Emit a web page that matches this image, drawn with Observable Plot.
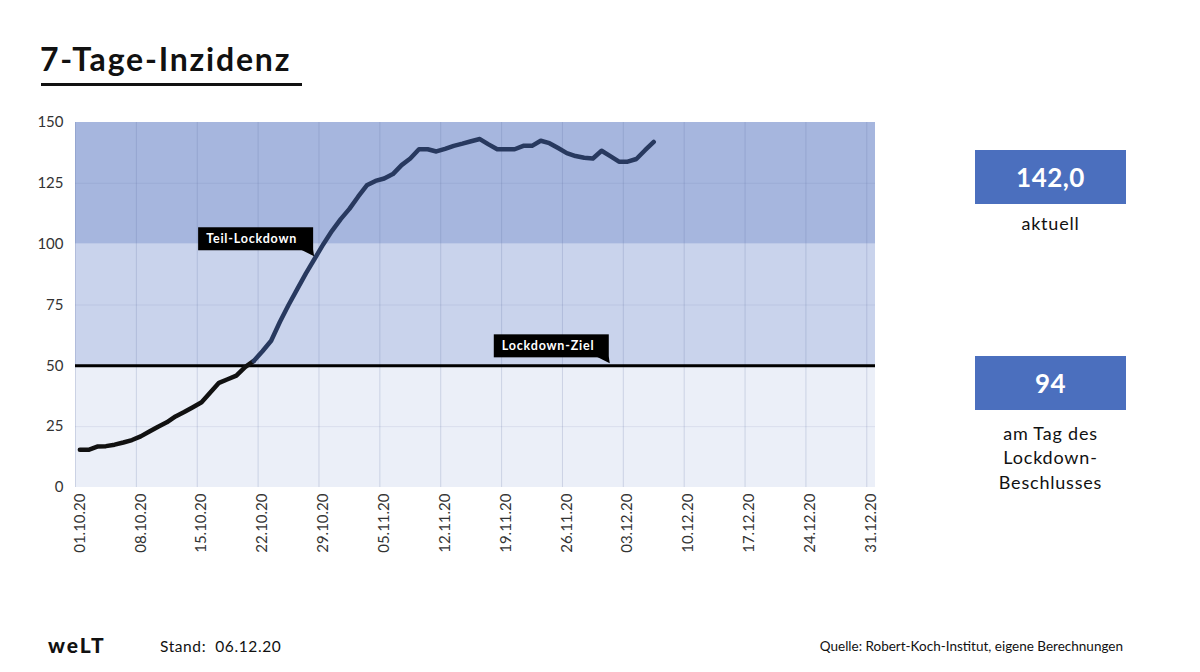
<!DOCTYPE html>
<html lang="de">
<head>
<meta charset="utf-8">
<script src="https://cdn.jsdelivr.net/npm/d3@7"></script>
<script src="https://cdn.jsdelivr.net/npm/@observablehq/plot@0.6"></script>
<style>
  html, body { margin: 0; padding: 0; background: #fff; }
  body { width: 1200px; height: 672px; position: relative; overflow: hidden; font-family: Lato, "Open Sans", sans-serif; color: #111; }
  #title { position: absolute; left: 40px; top: 39px; font-size: 32px; font-weight: 700; letter-spacing: 1.8px; line-height: 40px; }
  #title-rule { position: absolute; left: 41px; top: 83px; width: 261px; height: 3px; background: #111; }
  #chart { position: absolute; left: 0; top: 100px; }
  .kpi { position: absolute; left: 975px; width: 151px; height: 54px; background: #4b6fbe; color: #fff; font-weight: 700; font-size: 26px; letter-spacing: 0.5px; display: flex; align-items: center; justify-content: center; }
  .kpi-label { position: absolute; left: 945px; width: 211px; text-align: center; font-size: 18px; letter-spacing: 0.8px; line-height: 24.3px; color: #111; }
  #logo { position: absolute; left: 48px; top: 632px; font-size: 21px; font-weight: 900; letter-spacing: 2px; }
  #stand { position: absolute; left: 160px; top: 637px; font-size: 15.5px; letter-spacing: 0.6px; white-space: pre; }
  #source { position: absolute; right: 77px; top: 638px; font-size: 13.5px; }
</style>
</head>
<body>
<div id="title">7-Tage-Inzidenz</div>
<div id="title-rule"></div>
<div id="chart"></div>

<div class="kpi" id="kpi-now" style="top:150px"></div>
<div class="kpi-label" style="top:211px">aktuell</div>
<div class="kpi" id="kpi-decision" style="top:356px"></div>
<div class="kpi-label" style="top:421px">am Tag des<br>Lockdown-<br>Beschlusses</div>

<div id="logo">weLT</div>
<div id="stand">Stand:  06.12.20</div>
<div id="source">Quelle: Robert-Koch-Institut, eigene Berechnungen</div>

<script>
// Daily 7-day incidence (cases per 100,000 inhabitants), Germany, from 01.10.2020
const startDay = "01.10.20";
const incidence = [
  15.5, 15.5, 16.8, 17.0, 17.6, 18.5, 19.5,
  21.0, 23.0, 25.0, 26.8, 29.2, 31.0, 33.0,
  35.0, 39.0, 43.0, 44.5, 46.0, 49.5, 52.0,
  56.0, 60.3, 68.0, 75.0, 81.5, 88.0, 94.0,
  100.0, 105.5, 110.3, 114.5, 119.5, 124.2, 126.0,
  127.0, 128.8, 132.5, 135.2, 139.0, 139.0, 138.1,
  139.2, 140.4, 141.3, 142.3, 143.2, 141.0, 139.0,
  139.0, 139.0, 140.4, 140.4, 142.5, 141.5, 139.5,
  137.4, 136.2, 135.5, 135.2, 138.4, 136.2, 133.9,
  133.9, 135.0, 138.6, 142.0
];

// Week tick labels on the date axis and value ticks
const weekLabels = ["01.10.20", "08.10.20", "15.10.20", "22.10.20", "29.10.20", "05.11.20", "12.11.20",
                    "19.11.20", "26.11.20", "03.12.20", "10.12.20", "17.12.20", "24.12.20", "31.12.20"];
const axisEnd = "01.01.21";
const yTicks = [0, 25, 50, 75, 100, 125, 150];

// Shaded incidence ranges
const bandFrom = [0, 50, 100];
const bandTo = [50, 100, 150];
const bandColor = ["#ebeff8", "#c9d3ec", "#a6b6de"];

// Target line and annotations
const targetValue = 50;
const decisionDay = "28.10.20";
const decisionValue = 94;
const calloutLabels = ["Teil-Lockdown", "Lockdown-Ziel"];
const calloutDays = [decisionDay, "01.12.20"];
const calloutValues = [decisionValue, targetValue];

const parseDay = d3.timeParse("%d.%m.%y");
const noon = (d) => d3.timeHour.offset(d, 12);
const start = parseDay(startDay);

const series = incidence.map((v, i) => ({date: noon(d3.timeDay.offset(start, i)), value: v}));
const weekStarts = weekLabels.map(parseDay);
const bands = bandFrom.map((lo, i) => ({lo, hi: bandTo[i], fill: bandColor[i]}));
const callouts = calloutLabels.map((label, i) => ({label, date: noon(parseDay(calloutDays[i])), value: calloutValues[i]}));

const fmtNum = (v, digits) => v.toFixed(digits).replace(".", ",");
document.getElementById("kpi-now").textContent = fmtNum(incidence[incidence.length - 1], 1);
document.getElementById("kpi-decision").textContent = fmtNum(decisionValue, 0);

// Black callout box with a small pointer at its lower right corner
function calloutMark(items) {
  return (index, scales) => {
    const g = d3.create("svg:g");
    const boxW = 115, boxH = 23, tipH = 6, tipW = 12;
    for (const a of items) {
      const px = scales.x(a.date), py = scales.y(a.value) - 2;
      const right = px - 1, bottom = py - tipH;
      g.append("rect")
        .attr("x", right - boxW).attr("y", bottom - boxH)
        .attr("width", boxW).attr("height", boxH)
        .attr("fill", "#000");
      g.append("path")
        .attr("d", `M${right - tipW},${bottom - 0.5}L${right},${bottom - 0.5}L${px},${py}Z`)
        .attr("fill", "#000");
      g.append("text")
        .attr("x", right - boxW + 8).attr("y", bottom - boxH / 2)
        .attr("dy", "0.35em")
        .attr("text-anchor", "start")
        .attr("fill", "#fff")
        .attr("font-size", 12.5)
        .attr("font-weight", 700)
        .attr("letter-spacing", "0.8px")
        .attr("font-family", "Lato, sans-serif")
        .text(a.label);
    }
    return g.node();
  };
}

const chart = Plot.plot({
  width: 900,
  height: 460,
  marginTop: 22,
  marginBottom: 73,
  marginLeft: 75,
  marginRight: 25,
  style: {fontFamily: "Lato, sans-serif", fontSize: "15px", color: "#333", background: "transparent"},
  x: {
    type: "time",
    domain: [start, parseDay(axisEnd)],
    ticks: weekStarts.map(noon),
    tickFormat: d3.timeFormat("%d.%m.%y"),
    tickRotate: -90,
    tickSize: 0,
    tickPadding: 6,
    label: null
  },
  y: {
    domain: [0, 150],
    ticks: yTicks,
    tickSize: 0,
    tickPadding: 12,
    label: null
  },
  marks: [
    Plot.rect(bands, {y1: "lo", y2: "hi", fill: "fill"}),
    Plot.ruleX(weekStarts, {stroke: "#5a6e9e", strokeOpacity: 0.22, strokeWidth: 1}),
    Plot.ruleY(yTicks.filter((t) => t % 50 !== 0), {stroke: "#5a6e9e", strokeOpacity: 0.12, strokeWidth: 1}),
    Plot.ruleY([targetValue], {stroke: "#000", strokeWidth: 3}),
    Plot.line(series, {
      x: "date",
      y: "value",
      z: null,
      stroke: (d) => (d.value >= targetValue ? "#28395f" : "#111"),
      strokeWidth: 4.5,
      strokeLinejoin: "round",
      strokeLinecap: "round"
    }),
    calloutMark(callouts)
  ]
});

document.getElementById("chart").appendChild(chart);
</script>
</body>
</html>
